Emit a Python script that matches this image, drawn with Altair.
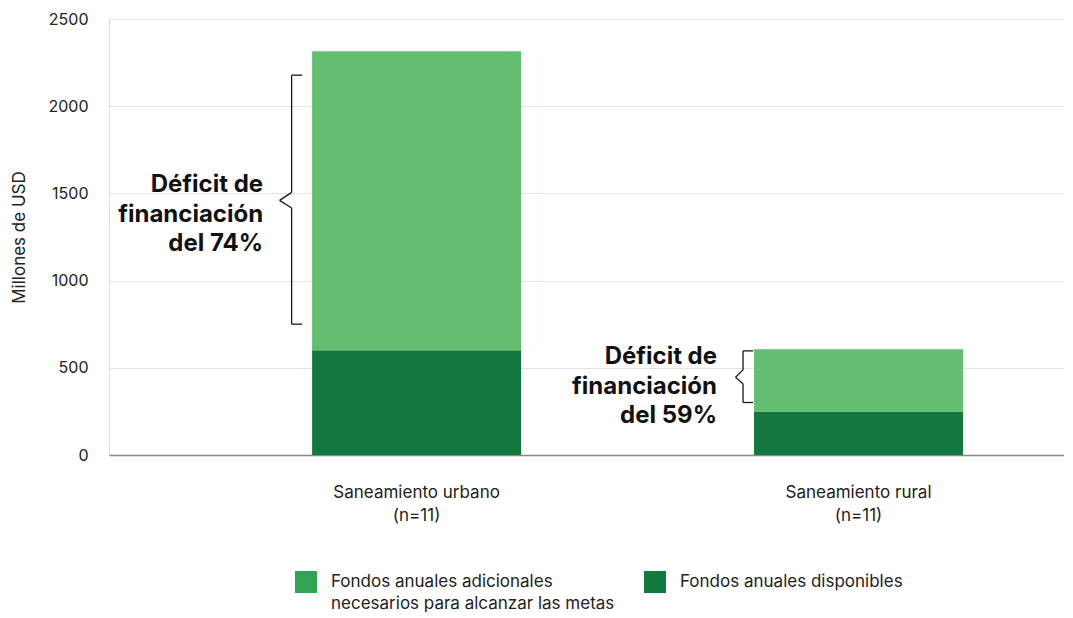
import altair as alt
import pandas as pd

# ---- data ----
categories = ["Saneamiento urbano", "Saneamiento rural"]
sample_n = ["(n=11)", "(n=11)"]
available = [600, 250]        # Fondos anuales disponibles
additional = [1715, 357]      # Fondos adicionales necesarios
deficit_labels = ["Déficit de|financiación|del 74%", "Déficit de|financiación|del 59%"]
series_names = ["Fondos anuales adicionales necesarios para alcanzar las metas",
                "Fondos anuales disponibles"]
legend_lines = [["Fondos anuales adicionales", "necesarios para alcanzar las metas"],
                ["Fondos anuales disponibles", ""]]
bar_colors = ["#64BE6F", "#12783D"]
legend_colors = ["#31A354", "#12783D"]

# brace extents (data units): top, notch top, tip, notch bottom, bottom
brace_top = [2178, 597]
brace_notch_top = [1506, 488]
brace_tip = [1460, 446]
brace_notch_bot = [1416, 408]
brace_bot = [750, 301]
text_first_line = [1548, 561]

cat_labels = [f"{c}|{n}" for c, n in zip(categories, sample_n)]

rows = []
for i, c in enumerate(cat_labels):
    rows.append({"cat": c, "serie": series_names[1], "value": available[i], "ord": 0})
    rows.append({"cat": c, "serie": series_names[0], "value": additional[i], "ord": 1})
bars_df = pd.DataFrame(rows)

# brace offsets (pixels from band center) for each bar
vx = [-125, -115.5]
tx = [-114.5, -105.5]
px = [-137, -123]
seg = []
for i, c in enumerate(cat_labels):
    seg += [
        {"cat": c, "y": brace_top[i], "y2": brace_top[i], "dx": vx[i], "dx2": tx[i]},
        {"cat": c, "y": brace_bot[i], "y2": brace_bot[i], "dx": vx[i], "dx2": tx[i]},
        {"cat": c, "y": brace_top[i], "y2": brace_notch_top[i], "dx": vx[i], "dx2": vx[i]},
        {"cat": c, "y": brace_notch_top[i], "y2": brace_tip[i], "dx": vx[i], "dx2": px[i]},
        {"cat": c, "y": brace_tip[i], "y2": brace_notch_bot[i], "dx": px[i], "dx2": vx[i]},
        {"cat": c, "y": brace_notch_bot[i], "y2": brace_bot[i], "dx": vx[i], "dx2": vx[i]},
    ]
seg_df = pd.DataFrame(seg)

txt_df = pd.DataFrame({"cat": cat_labels, "y": text_first_line, "label": deficit_labels,
                       "dx": [-153.5, -141.5]})

FONT = "Inter"
FS = 17

x_scale = alt.Scale(domain=cat_labels, paddingInner=0.527, paddingOuter=0.344, align=0.668)
y_scale = alt.Scale(domain=[0, 2500], nice=False)

x_enc = alt.X("cat:N", scale=x_scale, sort=cat_labels,
              axis=alt.Axis(title=None, labelExpr="split(datum.label, '|')",
                            labelAngle=0, labelAlign="center", labelFont=FONT,
                            labelFontSize=FS, labelColor="#222", labelLineHeight=23,
                            labelPadding=37, ticks=False, domain=True,
                            domainColor="#888888", domainWidth=1.6, labelLimit=400))

y_enc = alt.Y("value:Q", stack="zero", scale=y_scale,
              axis=alt.Axis(title="Millones de USD", values=[0, 500, 1000, 1500, 2000, 2500],
                            format="d", labelFont=FONT, labelFontSize=16, labelColor="#222",
                            labelPadding=21, ticks=False, domain=False,
                            gridColor="#e2e2e2", gridWidth=1,
                            titleFont=FONT, titleFontSize=FS, titleFontWeight="normal",
                            titleColor="#222", titlePadding=19))

bars = alt.Chart(bars_df).mark_bar().encode(
    x=x_enc,
    y=y_enc,
    color=alt.Color("serie:N", scale=alt.Scale(domain=series_names, range=bar_colors),
                    legend=None),
    order=alt.Order("ord:Q", sort="ascending"),
)

label_expr = ("datum.label == '" + series_names[0] + "' ? " + repr(legend_lines[0]) +
              " : " + repr(legend_lines[1]))

# invisible duplicate layer that only carries the legend (legend swatches use other greens)
legend_layer = alt.Chart(bars_df).mark_bar(opacity=0).encode(
    x=alt.X("cat:N", scale=x_scale, sort=cat_labels),
    y=alt.Y("value:Q", stack="zero", scale=y_scale),
    fill=alt.Fill("serie:N",
                  scale=alt.Scale(domain=series_names, range=legend_colors),
                  legend=alt.Legend(
                      title=None, orient="none", legendX=186, legendY=552,
                      direction="horizontal", columns=2, symbolType="square",
                      symbolSize=484, symbolStrokeWidth=0, symbolOpacity=1,
                      labelFont=FONT, labelFontSize=FS, labelColor="#222",
                      labelOffset=14, labelLimit=400, columnPadding=29, padding=0,
                      labelExpr=label_expr,
                  )),
    order=alt.Order("ord:Q", sort="ascending"),
)

braces = alt.Chart(seg_df).mark_rule(
    color="#1a1a1a", strokeWidth=1.3,
    xOffset=alt.ExprRef("datum.dx"), x2Offset=alt.ExprRef("datum.dx2"),
).encode(
    x=alt.X("cat:N", scale=x_scale, sort=cat_labels),
    x2="cat:N",
    y=alt.Y("y:Q", scale=y_scale),
    y2="y2:Q",
)

texts = alt.Chart(txt_df).mark_text(
    font=FONT, fontSize=24, fontWeight="bold", color="#111", align="right",
    baseline="middle", lineBreak="|", lineHeight=29.5,
    dx=alt.ExprRef("datum.dx"),
).encode(
    x=alt.X("cat:N", scale=x_scale, sort=cat_labels),
    y=alt.Y("y:Q", scale=y_scale),
    text="label:N",
)

chart = alt.layer(legend_layer, bars, braces, texts).resolve_scale(
    color="independent", fill="independent"
).properties(
    width=955, height=436,
    padding={"left": 2, "top": 3, "right": 0, "bottom": 0},
).configure_view(stroke=None).configure(
    background="white", style={"guide-label": {"lineHeight": 22}}
)

chart.save("out.html", embed_options={"renderer": "svg", "actions": False})
